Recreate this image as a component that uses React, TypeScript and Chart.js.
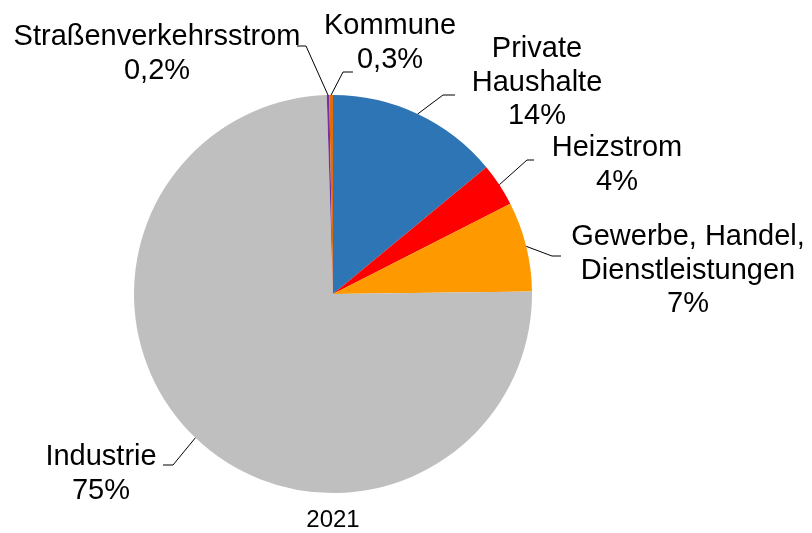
import React, { useEffect, useRef } from "react";
import { Chart, registerables } from "chart.js";

Chart.register(...registerables);

const categories: string[][] = [
  ["Private", "Haushalte"],
  ["Heizstrom"],
  ["Gewerbe, Handel,", "Dienstleistungen"],
  ["Industrie"],
  ["Straßenverkehrsstrom"],
  ["Kommune"],
];
const values: number[] = [14.0, 3.5, 7.3, 74.7, 0.2, 0.3];
const colors: string[] = ["#2E75B6", "#FF0000", "#FF9900", "#BFBFBF", "#7030A0", "#E36C09"];
const title = "2021";

// label layout: text centre x, first baseline y, leader elbow x/y, leader end x
const labelLayout: number[][] = [
  [537, 57, 443, 95, 455],
  [617, 156, 527, 160, 534],
  [688, 245, 552, 256, 561],
  [101, 465, 173, 465, 163],
  [157, 45, 306, 46, 297],
  [390, 34, 343, 72, 353],
];

const LABEL_FONT = '29px "Liberation Sans", Arial, sans-serif';
const LINE_H = 33.5;

function fmt(v: number): string {
  if (v < 1) return v.toFixed(1).replace(".", ",") + "%";
  return Math.round(v) + "%";
}

const labelPlugin = {
  id: "outLabels",
  afterDraw(chart: any) {
    const ctx = chart.ctx;
    const meta = chart.getDatasetMeta(0);
    ctx.save();
    meta.data.forEach((arc: any, i: number) => {
      const p = arc.getProps(["x", "y", "startAngle", "endAngle", "outerRadius"], true);
      const mid = (p.startAngle + p.endAngle) / 2;
      const ax = p.x + Math.cos(mid) * p.outerRadius;
      const ay = p.y + Math.sin(mid) * p.outerRadius;
      const [cx, by, ex, ey, endX] = labelLayout[i];
      ctx.strokeStyle = "#000000";
      ctx.lineWidth = 1;
      ctx.beginPath();
      ctx.moveTo(ax, ay);
      ctx.lineTo(ex, ey);
      ctx.lineTo(endX, ey);
      ctx.stroke();
      ctx.fillStyle = "#000000";
      ctx.font = LABEL_FONT;
      ctx.textAlign = "center";
      ctx.textBaseline = "alphabetic";
      const lines = [...categories[i], fmt(values[i])];
      lines.forEach((t, k) => ctx.fillText(t, cx, by + k * LINE_H));
    });
    ctx.font = '24px "Liberation Sans", Arial, sans-serif';
    ctx.textAlign = "center";
    ctx.fillStyle = "#000000";
    ctx.fillText(title, meta.data[0].x, 527);
    ctx.restore();
  },
};

export default function App() {
  const ref = useRef<HTMLCanvasElement>(null);
  useEffect(() => {
    if (!ref.current) return;
    const chart = new Chart(ref.current, {
      type: "pie",
      data: {
        labels: categories.map((c) => c.join(" ")),
        datasets: [
          {
            data: values,
            backgroundColor: colors,
            borderWidth: 0,
          },
        ],
      },
      options: {
        responsive: false,
        animation: false,
        layout: { padding: { left: 134, right: 280, top: 95, bottom: 40 } },
        plugins: {
          legend: { display: false },
          tooltip: { enabled: false },
          title: { display: false },
        },
      },
      plugins: [labelPlugin],
    });
    return () => chart.destroy();
  }, []);
  return (
    <div style={{ position: "fixed", left: 0, top: 0, width: 812, height: 533, background: "#fff" }}>
      <canvas ref={ref} width={812} height={533} style={{ width: 812, height: 533 }} />
    </div>
  );
}
